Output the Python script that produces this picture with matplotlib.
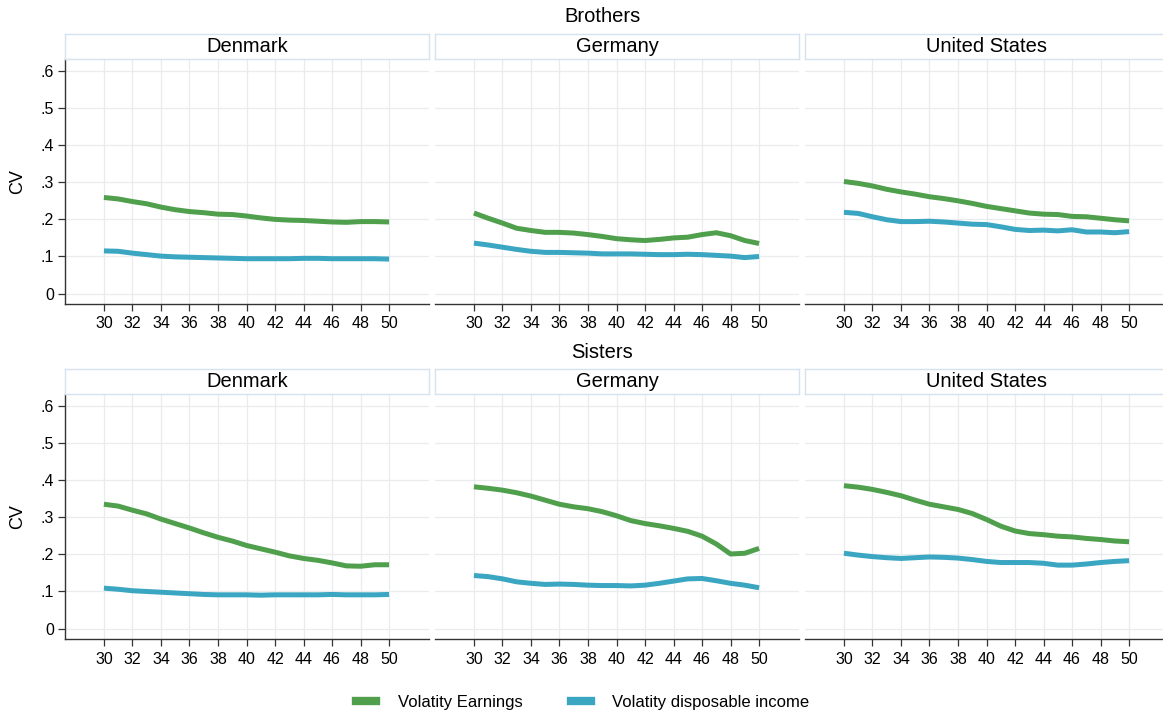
import numpy as np
import matplotlib
matplotlib.use("Agg")
import matplotlib.pyplot as plt
from matplotlib.lines import Line2D

plt.rcParams["font.family"] = ["Liberation Sans", "DejaVu Sans"]

ages = np.arange(30, 51)
countries = ["Denmark", "Germany", "United States"]
groups = ["Brothers", "Sisters"]

# coefficient of variation by age, per group and country
brothers_earn = {
    "Denmark": [.259, .255, .248, .242, .233, .226, .221, .218, .214, .213, .209,
                .204, .200, .198, .197, .195, .193, .192, .194, .194, .193],
    "Germany": [.217, .203, .190, .176, .170, .165, .165, .163, .159, .154, .148,
                .145, .143, .146, .150, .152, .159, .164, .156, .143, .135],
    "United States": [.302, .297, .290, .281, .274, .268, .261, .256, .250, .243, .235,
                      .229, .223, .217, .214, .213, .208, .207, .203, .199, .196],
}
brothers_disp = {
    "Denmark": [.115, .114, .109, .105, .101, .099, .098, .097, .096, .095, .094,
                .094, .094, .094, .095, .095, .094, .094, .094, .094, .093],
    "Germany": [.136, .131, .125, .119, .114, .111, .111, .110, .109, .107, .107,
                .107, .106, .105, .105, .106, .105, .103, .101, .097, .100],
    "United States": [.219, .216, .207, .199, .194, .194, .195, .193, .190, .187, .186,
                      .180, .173, .170, .171, .169, .172, .166, .166, .164, .167],
}
sisters_earn = {
    "Denmark": [.335, .330, .319, .309, .295, .283, .271, .258, .246, .236, .224,
                .215, .206, .196, .189, .184, .177, .169, .168, .172, .172],
    "Germany": [.382, .378, .373, .366, .357, .346, .335, .328, .323, .315, .304,
                .291, .283, .277, .270, .262, .249, .228, .201, .203, .216],
    "United States": [.385, .381, .375, .367, .358, .346, .335, .328, .321, .310, .294,
                      .276, .263, .256, .253, .249, .247, .243, .240, .236, .234],
}
sisters_disp = {
    "Denmark": [.109, .106, .102, .100, .098, .096, .094, .092, .091, .091, .091,
                .090, .091, .091, .091, .091, .092, .091, .091, .091, .092],
    "Germany": [.143, .140, .134, .126, .122, .119, .120, .119, .117, .116, .116,
                .115, .117, .122, .128, .134, .135, .129, .122, .117, .110],
    "United States": [.203, .198, .194, .191, .189, .191, .193, .192, .190, .186, .181,
                      .178, .178, .178, .176, .171, .171, .174, .178, .181, .183],
}
data = {"Brothers": (brothers_earn, brothers_disp),
        "Sisters": (sisters_earn, sisters_disp)}

GREEN = "#4f9f4c"
TEAL = "#3aa6c2"
GRID = "#e9ecef"
STRIP_EDGE = "#d6e3ee"

W, H = 1163, 715
fig = plt.figure(figsize=(W / 100, H / 100), dpi=100)

col_left = [65, 435, 805]
panel_w = 364
row_geom = {"Brothers": (59, 304, 34, 17), "Sisters": (394, 639, 369, 352)}

for g in groups:
    top, bottom, strip_top, title_y = row_geom[g]
    earn, disp = data[g]
    fig.text(602 / W, 1 - title_y / H, g, ha="center", va="center", fontsize=14.5)
    fig.text(18 / W, 1 - (top + bottom) / 2 / H, "CV", ha="center", va="center",
             rotation=90, fontsize=13)
    for i, c in enumerate(countries):
        x0 = col_left[i]
        ax = fig.add_axes([x0 / W, 1 - bottom / H, panel_w / W, (bottom - top) / H])
        ax.plot(ages, earn[c], color=GREEN, lw=3.6, solid_capstyle="butt", zorder=3)
        ax.plot(ages, disp[c], color=TEAL, lw=3.6, solid_capstyle="butt", zorder=3)
        ax.set_xlim(27.27, 52.8)
        ax.set_ylim(-0.028, 0.632)
        ax.set_xticks(np.arange(30, 51, 2))
        ax.set_yticks(np.arange(0, 0.61, 0.1))
        ax.set_yticklabels(["0", ".1", ".2", ".3", ".4", ".5", ".6"])
        ax.grid(True, color=GRID, lw=0.9, zorder=0)
        ax.set_axisbelow(True)
        for s in ["top", "right"]:
            ax.spines[s].set_visible(False)
        ax.spines["bottom"].set_color("#333333")
        ax.spines["bottom"].set_linewidth(1.0)
        ax.tick_params(axis="x", direction="out", length=5, width=0.9,
                       color="#333333", labelsize=11.5, pad=4)
        if i == 0:
            ax.spines["left"].set_color("#333333")
            ax.spines["left"].set_linewidth(1.0)
            ax.tick_params(axis="y", direction="out", length=5, width=0.9,
                           color="#333333", labelsize=11.5, pad=3)
        else:
            ax.spines["left"].set_visible(False)
            ax.tick_params(axis="y", length=0, labelleft=False)

        # facet strip above each panel
        sax = fig.add_axes([x0 / W, 1 - top / H, panel_w / W, (top - strip_top) / H])
        sax.set_xticks([])
        sax.set_yticks([])
        for s in sax.spines.values():
            s.set_color(STRIP_EDGE)
            s.set_linewidth(1.0)
        sax.text(0.5, 0.5, c, ha="center", va="center", fontsize=14.5,
                 transform=sax.transAxes)

handles = [Line2D([], [], color=GREEN, lw=6),
           Line2D([], [], color=TEAL, lw=6)]
fig.legend(handles, ["Volatity Earnings", "Volatity disposable income"],
           loc="center", bbox_to_anchor=(0.501, 1 - 702 / H), ncol=2,
           frameon=False, fontsize=12, handlelength=1.2, columnspacing=2.9,
           handletextpad=1.3)

fig.savefig("out.png", dpi=100)
